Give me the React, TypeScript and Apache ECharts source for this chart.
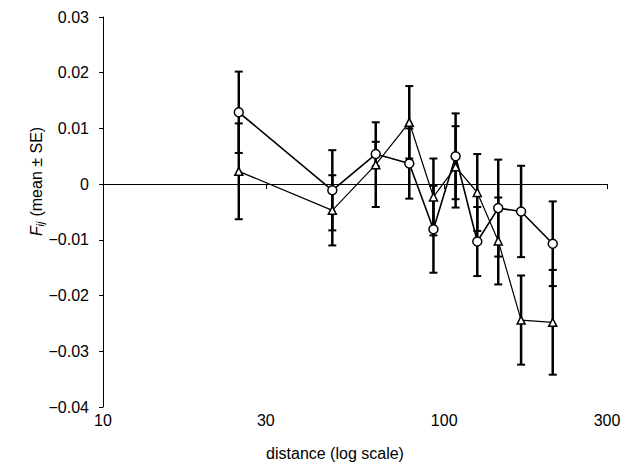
import React, { useEffect, useRef } from "react";
import * as echarts from "echarts";

const distances = [25, 47, 63, 79, 93, 108, 125, 144, 168, 208];
const circleMean = [0.0129, -0.0011, 0.0054, 0.0037, -0.0081, 0.005, -0.0103, -0.0043, -0.0049, -0.0107];
const circleSE = [0.0073, 0.0072, 0.0022, 0.0063, 0.0078, 0.0077, 0.0062, 0.0087, 0.0082, 0.0076];
const triMean = [0.0023, -0.0047, 0.0035, 0.0111, -0.0023, 0.0031, -0.0015, -0.0102, -0.0244, -0.0248];
const triSE = [0.0086, 0.0063, 0.0076, 0.0065, 0.0069, 0.0073, 0.0069, 0.0078, 0.008, 0.0094];
const xTickLabels = [10, 30, 100, 300];
const yMin = -0.04;
const yMax = 0.03;
const yStep = 0.01;

const FONT = "'Liberation Sans', Arial, sans-serif";

export default function App() {
  const ref = useRef<HTMLDivElement>(null);
  useEffect(() => {
    if (!ref.current) return;
    const chart = echarts.init(ref.current, undefined, { renderer: "svg" });
    const lx = distances.map((d) => Math.log10(d));
    const errData = (m: number[], s: number[]) =>
      lx.map((x, i) => [x, m[i] - s[i], m[i] + s[i]]);
    const renderErr = (params: any, api: any) => {
      const x = api.value(0);
      const lo = api.coord([x, api.value(1)]);
      const hi = api.coord([x, api.value(2)]);
      const w = 4;
      const st = { stroke: "#000", lineWidth: 2.5 };
      return {
        type: "group",
        children: [
          { type: "line", shape: { x1: lo[0], y1: lo[1], x2: hi[0], y2: hi[1] }, style: st },
          { type: "line", shape: { x1: lo[0] - w, y1: lo[1], x2: lo[0] + w, y2: lo[1] }, style: { stroke: "#000", lineWidth: 2 } },
          { type: "line", shape: { x1: hi[0] - w, y1: hi[1], x2: hi[0] + w, y2: hi[1] }, style: { stroke: "#000", lineWidth: 2 } },
        ],
      };
    };
    const tickVals = xTickLabels.map((v) => Math.log10(v));
    chart.setOption({
      animation: false,
      backgroundColor: "#fff",
      grid: { left: 103, right: 25, top: 17, bottom: 57, containLabel: false },
      xAxis: [
        {
          type: "value",
          min: 1,
          max: Math.log10(300),
          axisLine: { show: true, onZero: true, lineStyle: { color: "#000", width: 1.2 } },
          axisTick: { show: true, inside: false, length: 5, customValues: tickVals.slice(1), lineStyle: { color: "#000", width: 1 } },
          axisLabel: { show: false },
          splitLine: { show: false },
        },
        {
          type: "value",
          position: "bottom",
          min: 1,
          max: Math.log10(300),
          axisLine: { show: false, onZero: false },
          axisTick: { show: false },
          axisLabel: {
            show: true,
            customValues: tickVals,
            formatter: (v: number) => String(Math.round(Math.pow(10, v))),
            color: "#000",
            fontSize: 16,
            fontFamily: FONT,
            margin: 5,
            showMinLabel: true,
            showMaxLabel: true,
          },
          splitLine: { show: false },
        },
      ],
      yAxis: {
        type: "value",
        min: yMin,
        max: yMax,
        interval: yStep,
        axisLine: { show: true, lineStyle: { color: "#000", width: 1 } },
        axisTick: { show: true, length: 4, lineStyle: { color: "#000" } },
        axisLabel: {
          color: "#000",
          fontSize: 16,
          fontFamily: FONT,
          margin: 14,
          formatter: (v: number) => {
            const r = Math.round(v * 100) / 100;
            if (r === 0) return "0";
            return (r < 0 ? "\u2212" : "") + Math.abs(r).toFixed(2);
          },
        },
        splitLine: { show: false },
      },
      graphic: [
        {
          type: "text",
          x: 335,
          y: 453,
          style: {
            text: "distance (log scale)",
            fontSize: 16,
            fontFamily: FONT,
            fill: "#000",
            align: "center",
            verticalAlign: "middle",
          },
        },
        {
          type: "group",
          x: 36,
          y: 182,
          rotation: Math.PI / 2,
          children: [
            {
              type: "text",
              x: -54,
              y: 0,
              style: { text: "F", fontSize: 16, fontStyle: "italic", fontFamily: FONT, fill: "#000", align: "left", verticalAlign: "middle" },
            },
            {
              type: "text",
              x: -44.5,
              y: 4,
              style: { text: "ij", fontSize: 11, fontStyle: "italic", fontFamily: FONT, fill: "#000", align: "left", verticalAlign: "middle" },
            },
            {
              type: "text",
              x: -39,
              y: 0,
              style: { text: " (mean ± SE)", fontSize: 16, fontFamily: FONT, fill: "#000", align: "left", verticalAlign: "middle" },
            },
          ],
        },
      ],
      series: [
        {
          type: "custom",
          xAxisIndex: 0,
          renderItem: renderErr,
          data: errData(circleMean, circleSE),
          encode: { x: 0, y: [1, 2] },
          z: 1,
          silent: true,
        },
        {
          type: "custom",
          xAxisIndex: 0,
          renderItem: renderErr,
          data: errData(triMean, triSE),
          encode: { x: 0, y: [1, 2] },
          z: 1,
          silent: true,
        },
        {
          type: "line",
          xAxisIndex: 0,
          data: lx.map((x, i) => [x, triMean[i]]),
          symbol: "triangle",
          symbolSize: 8,
          lineStyle: { color: "#000", width: 1.2 },
          itemStyle: { color: "#fff", borderColor: "#000", borderWidth: 1.5 },
          z: 3,
        },
        {
          type: "line",
          xAxisIndex: 0,
          data: lx.map((x, i) => [x, circleMean[i]]),
          symbol: "circle",
          symbolSize: 9,
          lineStyle: { color: "#000", width: 1.6 },
          itemStyle: { color: "#fff", borderColor: "#000", borderWidth: 1.5 },
          z: 4,
        },
      ],
    });
    return () => chart.dispose();
  }, []);
  return (
    <div
      ref={ref}
      style={{ position: "fixed", left: 0, top: 0, width: 632, height: 464, background: "#fff" }}
    />
  );
}
